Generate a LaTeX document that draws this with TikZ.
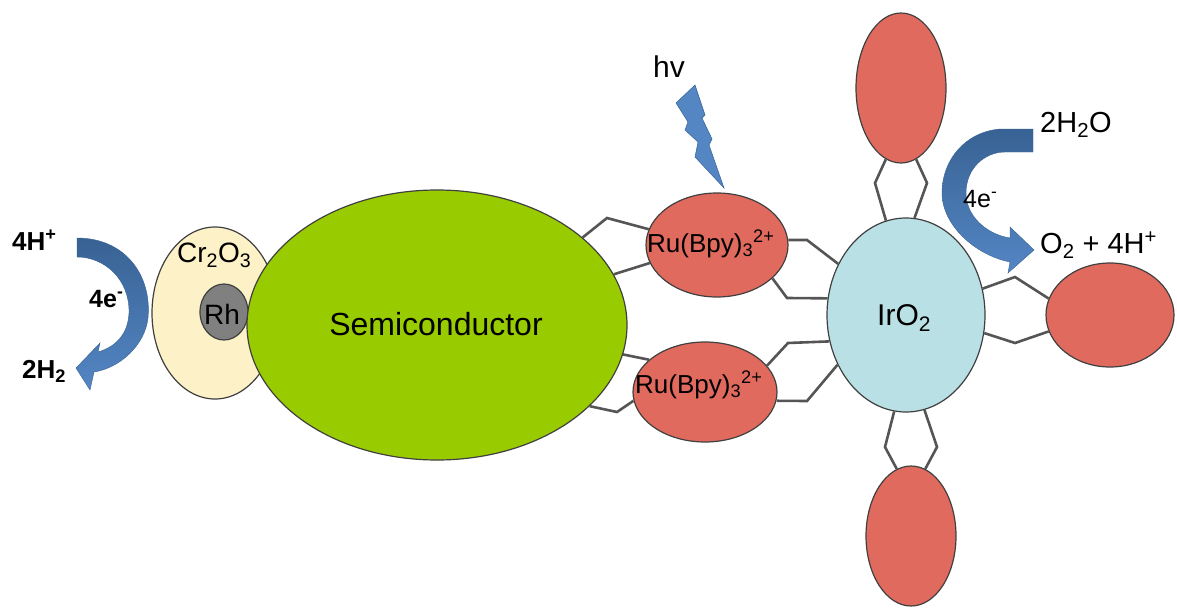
\documentclass[tikz,border=0pt]{standalone}
\usepackage{fontspec}
\setmainfont{Liberation Sans}
\usetikzlibrary{shapes.geometric}

\definecolor{semigreen}{RGB}{153,204,0}
\definecolor{crfill}{RGB}{253,241,200}
\definecolor{rhgray}{RGB}{128,128,128}
\definecolor{rured}{RGB}{225,106,94}
\definecolor{irblue}{RGB}{185,224,228}
\definecolor{edgegray}{RGB}{64,64,64}
\definecolor{linkgray}{RGB}{85,85,85}
\definecolor{arrowdark}{RGB}{56,98,148}
\definecolor{arrowlight}{RGB}{84,134,196}

\newcommand\setfs[1]{\fontsize{#1}{#1}\selectfont}

\begin{document}
\begin{tikzpicture}[x=1pt,y=-1pt,
  particle/.style={ellipse, draw=edgegray, line width=1.2pt, inner sep=0pt},
  linker/.style={draw=linkgray, line width=2.6pt, line join=miter},
  lbl/.style={inner sep=0pt, text=black},
  bluearrow/.style={top color=arrowdark, bottom color=arrowlight, draw=arrowdark, line width=0.4pt}]
\useasboundingbox (0,0) rectangle (1177,613);

% co-catalyst core-shell particle
\node[particle, fill=crfill, minimum width=126pt, minimum height=172pt] (cr) at (215,313) {};
\node[particle, fill=rhgray, minimum width=48pt, minimum height=56pt] (rh) at (224,312) {};
\node[lbl, anchor=base west] (crtext) at (177,262) {\setfs{28}Cr\textsubscript{2}O\textsubscript{3}};
\node[lbl, anchor=base] (rhtext) at (222,324) {\setfs{28}Rh};

% semiconductor
\node[particle, fill=semigreen, minimum width=380pt, minimum height=270pt] (semi) at (437,325) {};
\node[lbl, anchor=base] (semitext) at (436,335) {\setfs{32}Semiconductor};

% sensitiser dyes
\node[particle, fill=rured, minimum width=142pt, minimum height=104pt] (ruA) at (717,245) {};
\node[particle, fill=rured, minimum width=144pt, minimum height=100pt] (ruB) at (705,392) {};

% IrO2 with its dye shell
\node[particle, fill=irblue, minimum width=158pt, minimum height=194pt] (ir) at (906,315) {};
\node[particle, fill=rured, minimum width=90pt, minimum height=150pt] (dyeT) at (901,88) {};
\node[particle, fill=rured, minimum width=90pt, minimum height=140pt] (dyeB) at (911,536) {};
\node[particle, fill=rured, minimum width=128pt, minimum height=104pt] (dyeR) at (1110,315) {};

% bridging ligands
\draw[linker] (semi.31) -- (607,218) -- (ruA.167);
\draw[linker] (semi.16) -- (ruA.195);
\draw[linker] (ruA.4) -- (807,240) -- (ir.143);
\draw[linker] (ruA.329) -- (787,298) -- (ir.168);
\draw[linker] (ruB.23) -- (788,343) -- (ir.199);
\draw[linker] (ruB.353) -- (807,401) -- (ir.216);
\draw[linker] (semi.351) -- (ruB.150);
\draw[linker] (semi.332) -- (617,412) -- (ruB.187);
\draw[linker] (ir.102) -- (875,183) -- (dyeT.258);
\draw[linker] (ir.85) -- (927,183) -- (dyeT.282);
\draw[linker] (ir.263) -- (885,447) -- (dyeB.102);
\draw[linker] (ir.281) -- (937,447) -- (dyeB.78);
\draw[linker] (ir.19) -- (1015,277) -- (dyeR.165);
\draw[linker] (ir.347) -- (1015,343) -- (dyeR.195);

% labels on dyes and IrO2
\node[lbl, anchor=base west] (ruAtext) at (647,252) {\setfs{26}Ru(Bpy)\textsubscript{3}\textsuperscript{2+}};
\node[lbl, anchor=base west] (ruBtext) at (635,393) {\setfs{26}Ru(Bpy)\textsubscript{3}\textsuperscript{2+}};
\node[lbl, anchor=base west] (irtext) at (877,325) {\setfs{30}IrO\textsubscript{2}};

% light
\node[lbl, anchor=base west] (hv) at (653,77) {\setfs{30}hv};
\fill[arrowlight, draw=arrowdark, line width=0.5pt]
  (676,103) -- (695,85) -- (705,115) -- (702,118) -- (712,139) -- (709,145)
  -- (724,188) -- (695,157) -- (698,142) -- (685,130) -- (688,122) -- cycle;

% proton reduction
\shade[bluearrow]
  (77,238) .. controls (125,238) and (152,275) .. (148,318)
  .. controls (145,345) and (120,368) .. (94,372)
  -- (90,390) -- (76,368) -- (100,343) -- (98,352)
  .. controls (115,347) and (128,335) .. (129,313)
  .. controls (130,280) and (105,257) .. (77,257) -- cycle;
\node[lbl, anchor=base west] (hplus) at (12,250) {\setfs{26}\bfseries 4H\textsuperscript{+}};
\node[lbl, anchor=base west] (eleft) at (89,307) {\setfs{25}\bfseries 4e\textsuperscript{-}};
\node[lbl, anchor=base west] (htwo) at (22,378) {\setfs{26}\bfseries 2H\textsubscript{2}};

% water oxidation
\shade[bluearrow]
  (1033,129) -- (1000,129) .. controls (965,132) and (942,160) .. (942,193)
  .. controls (942,225) and (975,255) .. (1010,262)
  -- (1008,273) -- (1034,250) -- (1010,227) -- (1010,238)
  .. controls (985,234) and (966,215) .. (966,193)
  .. controls (966,168) and (985,152) .. (1005,152) -- (1033,152) -- cycle;
\node[lbl, anchor=base west] (water) at (1040,132) {\setfs{29}2H\textsubscript{2}O};
\node[lbl, anchor=base west] (eright) at (963,207) {\setfs{25}4e\textsuperscript{-}};
\node[lbl, anchor=base west] (oxygen) at (1040,253) {\setfs{29}O\textsubscript{2} + 4H\textsuperscript{+}};
\end{tikzpicture}
\end{document}
